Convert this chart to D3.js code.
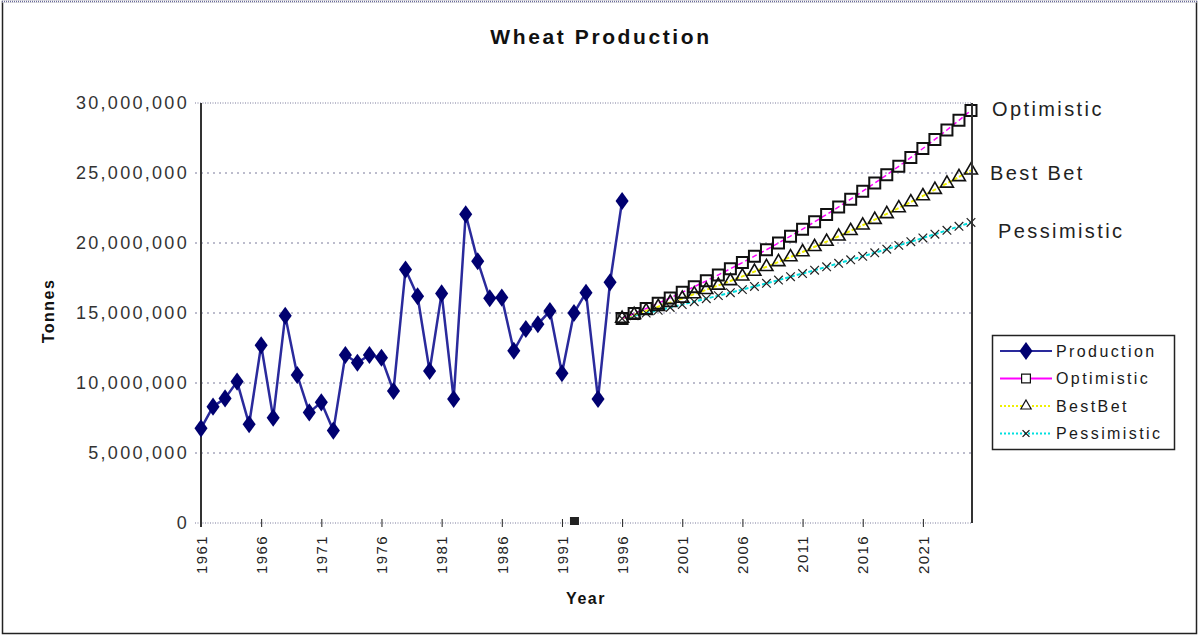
<!DOCTYPE html>
<html>
<head>
  <meta charset="utf-8">
  <script src="https://d3js.org/d3.v7.min.js"></script>
  <style>
    body { margin:0; background:#fff; }
    text { font-family: "Liberation Sans", Arial, sans-serif; fill:#1a1a1a; }
    .grid line { stroke:#7a7a9a; stroke-dasharray:2,4; }
  </style>
</head>
<body>
<script>
  // data (tonnes)
  var prodYears = [1961,1962,1963,1964,1965,1966,1967,1968,1969,1970,1971,1972,1973,1974,1975,1976,1977,1978,
                   1979,1980,1981,1982,1983,1984,1985,1986,1987,1988,1989,1990,1991,1992,1993,1994,1995,1996];
  var production = [6.76,8.31,8.9,10.1,7.05,12.7,7.52,14.8,10.57,7.9,8.62,6.6,12.0,11.45,12.0,11.8,9.43,18.1,
                    16.2,10.86,16.4,8.86,22.05,18.7,16.05,16.1,12.3,13.86,14.2,15.14,10.7,15.0,16.45,8.86,17.2,23.0];
  var projYears = [1996,1997,1998,1999,2000,2001,2002,2003,2004,2005,2006,2007,2008,2009,2010,
                   2011,2012,2013,2014,2015,2016,2017,2018,2019,2020,2021,2022,2023,2024,2025];
  var optimistic = [14.6,14.96,15.32,15.7,16.08,16.48,16.88,17.3,17.72,18.16,18.6,19.06,19.52,20.0,20.49,
                    20.99,21.51,22.04,22.58,23.13,23.7,24.28,24.87,25.48,26.11,26.75,27.4,28.07,28.76,29.47];
  var bestBet = [14.6,14.88,15.16,15.45,15.74,16.04,16.35,16.66,16.97,17.29,17.62,17.96,18.3,18.65,19.0,
                 19.36,19.73,20.1,20.48,20.87,21.27,21.67,22.08,22.5,22.93,23.36,23.81,24.26,24.72,25.19];
  var pessimistic = [14.6,14.8,14.99,15.19,15.4,15.6,15.81,16.02,16.24,16.45,16.67,16.9,17.12,17.35,17.59,
                     17.82,18.06,18.3,18.55,18.8,19.05,19.3,19.56,19.83,20.09,20.36,20.63,20.91,21.19,21.47];
  var strayPoints = [[1992, 0]];
  var xTicks = [1961,1966,1971,1976,1981,1986,1991,1996,2001,2006,2011,2016,2021];
  var yTicks = [0,5000000,10000000,15000000,20000000,25000000,30000000];
  var seriesNames = ["Production","Optimistic","BestBet","Pessimistic"];
  var endLabels = ["Optimistic","Best Bet","Pessimistic"];

  var W = 1199, H = 636;
  var plot = {left: 201, right: 972, top: 103, bottom: 523};

  var svg = d3.select("body").append("svg")
      .attr("width", W)
      .attr("height", H);

  // outer frame
  svg.append("rect")
      .attr("x", 2.5).attr("y", 1.5).attr("width", W - 5).attr("height", H - 4)
      .attr("fill", "#fff").attr("stroke", "#222").attr("stroke-width", 1.5);
  svg.append("line")
      .attr("x1", 2).attr("x2", W - 2).attr("y1", 1.5).attr("y2", 1.5)
      .attr("stroke", "#fff").attr("stroke-width", 2);
  svg.append("line")
      .attr("x1", 2).attr("x2", W - 2).attr("y1", 1.5).attr("y2", 1.5)
      .attr("stroke", "#6a6a9a").attr("stroke-width", 1.5).attr("stroke-dasharray", "1,1");

  var x = d3.scaleLinear().domain([1961, 2025]).range([plot.left, plot.right - 1]);
  var y = d3.scaleLinear().domain([0, 30000000]).range([plot.bottom, plot.top]);

  // gridlines
  svg.append("g").attr("class", "grid")
    .selectAll("line")
    .data(yTicks)
    .enter().append("line")
      .attr("x1", plot.left - 6)
      .attr("x2", plot.right)
      .attr("y1", d => y(d))
      .attr("y2", d => y(d))
      .style("stroke-dasharray", d => (d === 0 || d === 30000000) ? "1,1.5" : "2,4");

  // y axis
  var yAxis = d3.axisLeft(y).tickValues(yTicks).tickFormat(d3.format(",")).tickSize(0).tickPadding(12);
  var gy = svg.append("g")
      .attr("transform", "translate(" + plot.left + ",0)")
      .call(yAxis);
  gy.select(".domain").remove();
  gy.selectAll("text")
      .style("font-size", "18px")
      .style("letter-spacing", "2.3px")
      .style("fill", "#333");

  // x axis
  var xAxis = d3.axisBottom(x).tickValues(xTicks).tickFormat(d3.format("d")).tickSize(4);
  var gx = svg.append("g")
      .attr("transform", "translate(0," + plot.bottom + ")")
      .call(xAxis);
  gx.select(".domain").remove();
  gx.selectAll("line").attr("y1", -4).attr("y2", 4).attr("stroke", "#222");
  gx.selectAll("text")
      .attr("transform", "rotate(-90)")
      .attr("x", -12)
      .attr("y", 0)
      .attr("dy", "0.35em")
      .style("text-anchor", "end")
      .style("font-size", "15px")
      .style("letter-spacing", "1.4px")
      .style("fill", "#222");

  // plot side lines
  svg.append("line")
      .attr("x1", plot.left).attr("x2", plot.left)
      .attr("y1", plot.top).attr("y2", plot.bottom + 4)
      .attr("stroke", "#333").attr("stroke-width", 2);

  // series
  var line = d3.line().x(d => x(d[0])).y(d => y(d[1] * 1e6));
  var pairs = (xs, vs) => xs.map((d, i) => [d, vs[i]]);

  var prodData = pairs(prodYears, production);
  var optData = pairs(projYears, optimistic);
  var bestData = pairs(projYears, bestBet);
  var pessData = pairs(projYears, pessimistic);

  svg.append("path").datum(pessData).attr("d", line)
      .attr("fill", "none").attr("stroke", "#00e0e0").attr("stroke-width", 2).attr("stroke-dasharray", "4,2");
  svg.append("path").datum(bestData).attr("d", line)
      .attr("fill", "none").attr("stroke", "#f0f000").attr("stroke-width", 2).attr("stroke-dasharray", "4,2");
  svg.append("path").datum(optData).attr("d", line)
      .attr("fill", "none").attr("stroke", "#ff00ff").attr("stroke-width", 1.5).attr("stroke-dasharray", "5,3");

  var symSquare = d3.symbol().type(d3.symbolSquare).size(121);
  var symTri = d3.symbol().type(d3.symbolTriangle).size(72);
  var symX = d3.symbol().type(d3.symbolX).size(50);
  var symDiamond = d3.symbol().type(d3.symbolDiamond).size(95);

  svg.selectAll(".pess").data(pessData).enter().append("path")
      .attr("class", "pess")
      .attr("transform", d => "translate(" + x(d[0]) + "," + y(d[1] * 1e6) + ")")
      .attr("d", symX).attr("fill", "none").attr("stroke", "#222").attr("stroke-width", 1.2);
  svg.selectAll(".best").data(bestData).enter().append("path")
      .attr("class", "best")
      .attr("transform", d => "translate(" + x(d[0]) + "," + y(d[1] * 1e6) + ")")
      .attr("d", symTri).attr("fill", "none").attr("stroke", "#111").attr("stroke-width", 1.6);
  svg.selectAll(".opt").data(optData).enter().append("path")
      .attr("class", "opt")
      .attr("transform", d => "translate(" + x(d[0]) + "," + y(d[1] * 1e6) + ")")
      .attr("d", symSquare).attr("fill", "none").attr("stroke", "#111").attr("stroke-width", 2);

  // right plot edge drawn over the last markers
  svg.append("line")
      .attr("x1", plot.right).attr("x2", plot.right)
      .attr("y1", plot.top).attr("y2", plot.bottom)
      .attr("stroke", "#333").attr("stroke-width", 2);

  svg.append("path").datum(prodData).attr("d", line)
      .attr("fill", "none").attr("stroke", "#2a2a9c").attr("stroke-width", 2.5);
  svg.selectAll(".prod").data(prodData).enter().append("path")
      .attr("class", "prod")
      .attr("transform", d => "translate(" + x(d[0]) + "," + y(d[1] * 1e6) + ") scale(1.25,1)")
      .attr("d", symDiamond).attr("fill", "#000070");

  svg.selectAll(".stray").data(strayPoints).enter().append("rect")
      .attr("class", "stray")
      .attr("x", d => x(d[0]) - 4).attr("y", d => y(d[1]) - 6)
      .attr("width", 9).attr("height", 8).attr("fill", "#222");

  // labels at series ends
  var endVals = [optimistic[optimistic.length - 1], bestBet[bestBet.length - 1], pessimistic[pessimistic.length - 1]];
  var endDx = [20, 18, 26];
  var endDy = [-1, 3, 9];
  svg.selectAll(".endlab").data(endLabels).enter().append("text")
      .attr("class", "endlab")
      .attr("x", (d, i) => plot.right + endDx[i])
      .attr("y", (d, i) => y(endVals[i] * 1e6) + endDy[i])
      .attr("dy", "0.35em")
      .style("font-size", "20px")
      .style("letter-spacing", "2.4px")
      .style("fill", "#222")
      .text(d => d);

  // title and axis titles
  svg.append("text")
      .attr("x", 601).attr("y", 44)
      .attr("text-anchor", "middle")
      .style("font-size", "21px").style("font-weight", "bold").style("letter-spacing", "2.6px")
      .style("fill", "#111")
      .text("Wheat Production");
  svg.append("text")
      .attr("transform", "translate(54,311) rotate(-90)")
      .attr("text-anchor", "middle")
      .style("font-size", "16px").style("font-weight", "bold").style("letter-spacing", "1.5px")
      .style("fill", "#111")
      .text("Tonnes");
  svg.append("text")
      .attr("x", 586).attr("y", 604)
      .attr("text-anchor", "middle")
      .style("font-size", "16px").style("font-weight", "bold").style("letter-spacing", "1.5px")
      .style("fill", "#111")
      .text("Year");

  // legend
  var lg = svg.append("g").attr("transform", "translate(992,335)");
  lg.append("rect").attr("x", 0.5).attr("y", 0.5).attr("width", 182).attr("height", 114)
      .attr("fill", "#fff").attr("stroke", "#222").attr("stroke-width", 1.5);
  var lgStroke = ["#2a2a9c", "#ff00ff", "#f0f000", "#00e0e0"];
  var lgDash = ["none", "none", "2,2", "2,2"];
  var lgSym = [symDiamond, symSquare, symTri, symX];
  var lgItems = lg.selectAll(".item").data(seriesNames).enter().append("g")
      .attr("class", "item")
      .attr("transform", (d, i) => "translate(0," + (16 + i * 27.5) + ")");
  lgItems.append("line")
      .attr("x1", 8).attr("x2", 60).attr("y1", 0).attr("y2", 0)
      .attr("stroke", (d, i) => lgStroke[i]).attr("stroke-width", 2)
      .attr("stroke-dasharray", (d, i) => lgDash[i]);
  lgItems.append("path")
      .attr("transform", (d, i) => "translate(34,0)" + (i === 0 ? " scale(1.25,1)" : " scale(0.8)"))
      .attr("d", (d, i) => lgSym[i]())
      .attr("fill", (d, i) => i === 0 ? "#000070" : "#fff")
      .attr("stroke", (d, i) => i === 0 ? "none" : "#111")
      .attr("stroke-width", 1.5);
  lgItems.append("text")
      .attr("x", 64).attr("y", 0).attr("dy", "0.36em")
      .style("font-size", "16px").style("letter-spacing", "2.4px")
      .text(d => d);
</script>
</body>
</html>
